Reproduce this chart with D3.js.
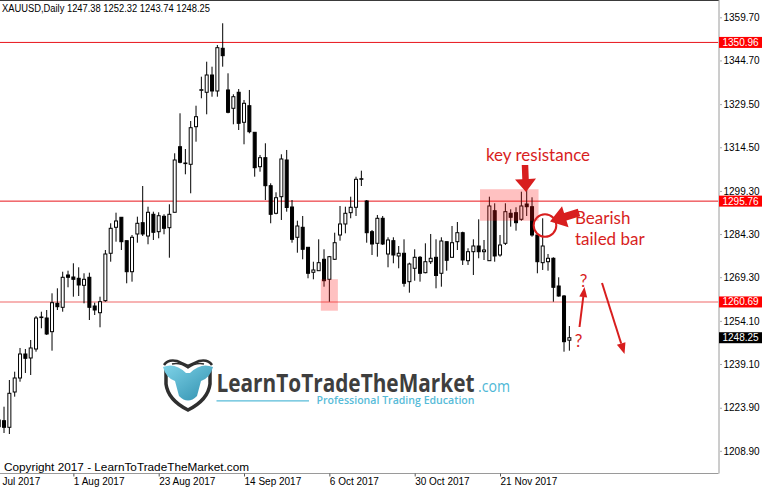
<!DOCTYPE html>
<html><head><meta charset="utf-8">
<script src="https://cdn.jsdelivr.net/npm/d3@7"></script>
<style>
body{margin:0;background:#fff;}
svg{display:block;font-family:"Liberation Sans",Arial,sans-serif;}
</style>
</head><body>
<svg id="c" width="765" height="489"></svg>
<script>
// ---------------- DATA ----------------
const symbolTitle = "XAUUSD,Daily";
const axisStartDate = "2017-07-10";   // first weekday on the time axis (off-screen left)
const axisEndDate   = "2017-12-08";
const firstCandleDate = "2017-07-12";

const opens = [1219.63,1219.39,1217.09,1229.37,1234.24,1242.59,1241.20,1244.33,1255.28,1255.11,
1250.35,1260.22,1258.83,1270.07,1269.37,1268.92,1266.48,1269.27,1259.28,1256.95,
1261.13,1277.62,1286.66,1290.14,1282.00,1271.21,1284.33,1288.26,1283.63,1291.18,
1285.13,1290.48,1286.52,1291.88,1314.69,1308.85,1308.57,1321.65,1334.31,1333.62,
1339.63,1334.07,1348.92,1334.42,1328.05,1333.62,1323.18,1328.95,1319.70,1307.74,
1310.87,1301.13,1291.53,1297.30,1310.07,1293.72,1283.18,1286.66,1279.70,1271.01,
1271.56,1275.53,1268.57,1275.53,1283.98,1287.81,1291.74,1293.62,1303.35,1295.81,
1285.13,1281.09,1289.79,1277.37,1282.00,1276.68,1277.62,1267.74,1272.40,1276.22,
1270.87,1274.69,1276.22,1270.66,1281.65,1276.22,1281.65,1284.78,1275.04,1278.17,
1280.15,1278.17,1275.04,1292.43,1277.02,1281.09,1291.53,1291.74,1289.44,1294.76,
1293.82,1283.98,1274.35,1274.69,1275.88,1266.24,1262.76,1247.38];
const highs = [1221.37,1224.26,1233.54,1236.43,1244.68,1244.33,1247.46,1255.81,1257.30,1257.89,
1263.70,1265.44,1271.21,1271.56,1274.14,1272.75,1270.66,1270.87,1260.43,1262.52,
1278.76,1288.05,1291.74,1290.14,1282.00,1283.98,1290.35,1301.02,1293.82,1292.09,
1291.88,1291.18,1294.66,1312.40,1326.31,1313.89,1323.63,1328.95,1339.04,1344.26,
1342.52,1350.07,1357.62,1340.22,1332.92,1334.76,1330.94,1334.42,1319.70,1311.81,
1315.88,1301.96,1298.83,1312.05,1313.55,1296.15,1288.95,1290.59,1279.70,1274.69,
1282.48,1279.01,1276.68,1284.78,1294.07,1293.82,1297.30,1304.26,1306.35,1296.15,
1285.72,1290.94,1290.59,1283.18,1283.18,1280.15,1282.48,1274.35,1279.01,1276.68,
1281.09,1284.33,1282.48,1283.18,1281.65,1287.11,1288.50,1285.13,1279.36,1282.48,
1289.44,1282.24,1297.30,1295.01,1283.98,1295.01,1292.92,1293.62,1299.04,1299.63,
1297.09,1283.98,1289.79,1277.37,1276.22,1269.27,1263.11,1252.32];
const lows = [1216.15,1215.11,1214.76,1227.74,1232.95,1235.98,1235.28,1243.39,1251.53,1249.20,
1243.74,1257.89,1257.30,1265.79,1262.52,1262.76,1260.22,1254.41,1256.15,1251.88,
1260.78,1274.69,1281.65,1278.76,1267.18,1267.74,1281.30,1283.63,1280.75,1282.24,
1282.83,1284.22,1276.08,1291.88,1308.92,1305.09,1298.48,1316.43,1331.53,1325.96,
1332.08,1332.08,1342.52,1326.31,1322.48,1320.50,1315.53,1319.35,1304.26,1306.00,
1296.15,1288.05,1291.18,1289.20,1292.09,1281.30,1277.82,1275.53,1268.92,1268.57,
1271.56,1266.00,1260.78,1275.28,1282.00,1284.57,1289.79,1290.59,1301.02,1281.30,
1277.02,1276.43,1280.50,1272.75,1274.14,1272.40,1266.00,1263.91,1268.08,1267.74,
1270.66,1273.89,1265.44,1266.00,1271.56,1276.22,1278.76,1273.55,1273.55,1270.07,
1275.88,1275.28,1275.04,1274.69,1276.43,1280.50,1286.87,1285.48,1288.95,1290.59,
1283.39,1270.66,1271.81,1271.56,1260.78,1262.52,1243.39,1243.74];
const closes = [1217.30,1217.09,1228.92,1234.24,1242.59,1241.09,1244.68,1255.11,1255.46,1249.55,
1260.43,1259.04,1269.27,1269.27,1268.57,1266.59,1268.57,1258.83,1257.89,1260.78,
1277.37,1286.31,1288.85,1281.65,1271.21,1283.18,1288.05,1284.33,1291.88,1284.92,
1290.69,1286.31,1291.18,1310.07,1309.27,1309.02,1321.30,1325.13,1334.52,1339.63,
1334.07,1349.13,1346.35,1326.66,1332.08,1322.83,1329.79,1319.91,1307.39,1310.87,
1301.13,1291.18,1296.95,1310.42,1293.55,1282.48,1287.11,1279.01,1270.66,1271.81,
1274.35,1268.08,1276.43,1281.30,1287.81,1291.53,1293.62,1303.35,1303.56,1284.78,
1280.85,1289.79,1280.85,1282.24,1277.02,1277.62,1267.18,1273.89,1276.22,1270.66,
1274.69,1275.88,1269.89,1281.89,1275.18,1281.30,1284.78,1275.28,1278.17,1280.15,
1278.17,1278.76,1294.07,1276.68,1280.50,1292.09,1290.14,1288.26,1294.07,1293.82,
1283.98,1274.69,1280.15,1275.88,1265.79,1262.76,1246.87,1248.25];

const yTicks = [1359.70,1344.70,1329.50,1314.50,1299.30,1284.30,1269.30,1254.10,1239.10,1223.90,1208.90];
const xTickDates = ["2017-07-10","2017-08-01","2017-08-23","2017-09-14","2017-10-06","2017-10-30","2017-11-21"];
const levels = [1350.96, 1295.76, 1260.69];
const zoneKeyResistance = {from:"2017-11-16", to:"2017-11-29", top:1299.9, bottom:1288.95};
const zoneLow = {from:"2017-10-05", to:"2017-10-09", top:1268.6, bottom:1257.65};
const copyrightText = "Copyright 2017 - LearnToTradeTheMarket.com";

// ---------------- SETUP ----------------
const svg = d3.select("#c");
const plotRight = 718.5, plotBottom = 473.5;
const parse = d3.timeParse("%Y-%m-%d");
const fmtKey = d3.timeFormat("%Y-%m-%d");
const axisDates = d3.timeDay.range(parse(axisStartDate), d3.timeDay.offset(parse(axisEndDate),1))
  .filter(d => d.getDay() !== 0 && d.getDay() !== 6);
const dateIndex = new Map(axisDates.map((d,i)=>[fmtKey(d), i]));
const firstIdx = dateIndex.get(firstCandleDate);
const candles = opens.map((o,i)=>({i: firstIdx+i, o, h:highs[i], l:lows[i], c:closes[i]}));

const x = d3.scaleLinear().domain([0, axisDates.length-1]).range([-11.97, -11.97 + (axisDates.length-1)*5.3333]);
const y = d3.scaleLinear().domain([1359.70, 1208.90]).range([17.3, 450.85]);

const defs = svg.append("defs");
defs.append("clipPath").attr("id","plot")
  .append("rect").attr("x",0).attr("y",0).attr("width",plotRight).attr("height",plotBottom);
const grad = defs.append("linearGradient").attr("id","bull").attr("x1",0).attr("y1",0).attr("x2",1).attr("y2",1);
grad.append("stop").attr("offset","0%").attr("stop-color","#7fd3e8");
grad.append("stop").attr("offset","100%").attr("stop-color","#2f8fae");

const plot = svg.append("g").attr("clip-path","url(#plot)");

// level lines
const levelColor = ["#e8141a","#e8141a","#f59a9a"];
const levelWidth = [1,1,1.6];
plot.selectAll("line.level").data(levels).join("line").attr("class","level")
  .attr("x1",0).attr("x2",plotRight).attr("y1",d=>y(d)).attr("y2",d=>y(d))
  .attr("stroke",(d,i)=>levelColor[i]).attr("stroke-width",(d,i)=>levelWidth[i]);

// candles
const cg = plot.append("g");
cg.selectAll("line.wick").data(candles).join("line").attr("class","wick")
  .attr("x1",d=>x(d.i)).attr("x2",d=>x(d.i)).attr("y1",d=>y(d.h)).attr("y2",d=>y(d.l))
  .attr("stroke","#000").attr("stroke-width",1);
cg.selectAll("rect.body").data(candles).join("rect").attr("class","body")
  .attr("x",d=>x(d.i)-1.5).attr("width",3)
  .attr("y",d=>y(Math.max(d.o,d.c)))
  .attr("height",d=>Math.max(0.6, Math.abs(y(d.o)-y(d.c))))
  .attr("fill",d=> d.c>=d.o ? "#fff" : "#000")
  .attr("stroke","#000").attr("stroke-width",1);

// pink zones
[[zoneKeyResistance,4,6.5],[zoneLow,3.2,3.2]].forEach(([z,pl,pr])=>{
  const x0 = x(dateIndex.get(z.from)) - pl, x1 = x(dateIndex.get(z.to)) + pr;
  plot.append("rect").attr("x",x0).attr("width",x1-x0)
    .attr("y",y(z.top)).attr("height",y(z.bottom)-y(z.top))
    .attr("fill","#ff1a1a").attr("fill-opacity",0.27);
});

// frame
svg.append("line").attr("x1",0).attr("x2",plotRight+0.5).attr("y1",0.5).attr("y2",0.5).attr("stroke","#3a3a3a").attr("stroke-width",1);
svg.append("line").attr("x1",0).attr("x2",plotRight).attr("y1",plotBottom).attr("y2",plotBottom).attr("stroke","#9a9a9a").attr("stroke-width",1);

// Y axis (right)
const yAxis = d3.axisRight(y).tickValues(yTicks).tickSize(3).tickPadding(2).tickFormat(d3.format(".2f"));
const yg = svg.append("g").attr("transform",`translate(${plotRight},0)`).call(yAxis);
yg.select(".domain").attr("stroke","#9a9a9a").attr("d",`M0.5,0V${plotBottom}`);
yg.selectAll(".tick line").attr("stroke","#555").attr("x1",2);
yg.selectAll(".tick text").attr("font-size","10px").attr("font-family","Liberation Sans, Arial, sans-serif").attr("fill","#000");

// X axis
const xTickIdx = xTickDates.map(d=>dateIndex.get(d));
const fmtLabel = d3.timeFormat("%-d %b %Y");
const xAxis = d3.axisBottom(x).tickValues(xTickIdx).tickSize(3).tickFormat(i=>fmtLabel(axisDates[i]));
const xg = svg.append("g").attr("transform",`translate(0,${plotBottom})`).call(xAxis);
xg.select(".domain").remove();
xg.selectAll(".tick line").attr("stroke","#555");
xg.selectAll(".tick text").attr("text-anchor","start").attr("x",0).attr("y",4).attr("dy","0.71em")
  .attr("font-size","10px").attr("font-family","Liberation Sans, Arial, sans-serif").attr("fill","#000");

// price tags
levels.forEach((v)=>{
  svg.append("rect").attr("x",719).attr("y",y(v)-5.5).attr("width",43).attr("height",11).attr("fill","#ff0000");
  svg.append("text").attr("x",722.5).attr("y",y(v)).attr("dy","0.35em").attr("font-size","10px").attr("fill","#fff").text(v.toFixed(2));
});
const lastClose = closes[closes.length-1];
svg.append("rect").attr("x",719).attr("y",y(lastClose)-5.5).attr("width",43).attr("height",11).attr("fill","#000");
svg.append("text").attr("x",722.5).attr("y",y(lastClose)).attr("dy","0.35em").attr("font-size","10px").attr("fill","#fff").text(lastClose.toFixed(2));

// title
const last = candles[candles.length-1];
svg.append("text").attr("x",2).attr("y",12).attr("font-size","10px").attr("fill","#000")
  .attr("textLength",208).attr("lengthAdjust","spacingAndGlyphs")
  .text(`${symbolTitle}  ${last.o.toFixed(2)} ${last.h.toFixed(2)} ${last.l.toFixed(2)} ${last.c.toFixed(2)}`);

// copyright
svg.append("text").attr("x",4).attr("y",471).attr("font-size","11.5px").attr("fill","#000")
  .attr("textLength",245).attr("lengthAdjust","spacingAndGlyphs").text(copyrightText);

// ---------------- ANNOTATIONS ----------------
const red = "#d81e1e";
function blockArrow(tail, tip, sw, hw, hl){
  const dx=tip[0]-tail[0], dy=tip[1]-tail[1], L=Math.hypot(dx,dy), ux=dx/L, uy=dy/L, nx=-uy, ny=ux;
  const bx=tip[0]-ux*hl, by=tip[1]-uy*hl;
  const p=[[tail[0]+nx*sw/2,tail[1]+ny*sw/2],[bx+nx*sw/2,by+ny*sw/2],[bx+nx*hw/2,by+ny*hw/2],tip,
           [bx-nx*hw/2,by-ny*hw/2],[bx-nx*sw/2,by-ny*sw/2],[tail[0]-nx*sw/2,tail[1]-ny*sw/2]];
  return "M"+p.map(q=>q.join(",")).join("L")+"Z";
}
function thinArrow(tail, tip, hl, hw){
  const dx=tip[0]-tail[0], dy=tip[1]-tail[1], L=Math.hypot(dx,dy), ux=dx/L, uy=dy/L, nx=-uy, ny=ux;
  const bx=tip[0]-ux*hl, by=tip[1]-uy*hl;
  svg.append("line").attr("x1",tail[0]).attr("y1",tail[1]).attr("x2",bx).attr("y2",by).attr("stroke",red).attr("stroke-width",2);
  svg.append("path").attr("d",`M${tip[0]},${tip[1]}L${bx+nx*hw/2},${by+ny*hw/2}L${bx-nx*hw/2},${by-ny*hw/2}Z`).attr("fill",red);
}
const annFont = "Lato, 'Open Sans', sans-serif";
svg.append("text").attr("x",538).attr("y",161).attr("text-anchor","middle").attr("font-family",annFont)
  .attr("font-size","17px").attr("fill",red).text("key resistance");
svg.append("path").attr("d",blockArrow([525,165],[526,192],6.5,21,13)).attr("fill",red);
svg.append("circle").attr("cx",545).attr("cy",225.5).attr("r",11.3).attr("fill","none").attr("stroke",red).attr("stroke-width",2);
svg.append("path").attr("d",blockArrow([579,212.5],[550,221.5],8,22,16)).attr("fill",red);
svg.append("text").attr("x",575).attr("y",224).attr("font-family",annFont).attr("font-size","17px").attr("fill",red).text("Bearish");
svg.append("text").attr("x",575).attr("y",244.5).attr("font-family",annFont).attr("font-size","17px").attr("fill",red).text("tailed bar");
svg.append("text").attr("x",583.5).attr("y",286.5).attr("text-anchor","middle").attr("font-family",annFont).attr("font-size","17px").attr("fill",red).text("?");
svg.append("text").attr("x",578.5).attr("y",346.5).attr("text-anchor","middle").attr("font-family",annFont).attr("font-size","17px").attr("fill",red).text("?");
thinArrow([579.5,327],[584.5,287],10,8);
thinArrow([602,283],[624.5,354],11,9);

// ---------------- LOGO ----------------
const logo = svg.append("g");
logo.append("path").attr("d","M166,369 L166,384 Q168,400 188,410 Q208,400 210,384 L210,369")
  .attr("fill","#fff").attr("stroke","#2f2f2f").attr("stroke-width",3.5);
logo.append("path").attr("d","M163,367 Q175,362 186,373 L190,373 Q201,362 213,367 Q210,378 201,381 L197,396 Q188,405 179,396 L175,381 Q166,378 163,367 Z")
  .attr("fill","url(#bull)");
logo.append("path").attr("d","M164,365 Q168,359 177,361 L188,366 L199,361 Q208,359 212,365")
  .attr("fill","none").attr("stroke","#2f2f2f").attr("stroke-width",2.5);
logo.append("path").attr("d","M172,364 Q180,362 188,368 Q196,362 204,364")
  .attr("fill","none").attr("stroke","#2f2f2f").attr("stroke-width",1.5);
logo.append("text").attr("x",216.5).attr("y",392).attr("font-family","'Open Sans', Lato, sans-serif").attr("font-weight","700")
  .attr("font-size","25px").attr("fill","#3e3e3e").attr("textLength",258).attr("lengthAdjust","spacingAndGlyphs").text("LearnToTradeTheMarket");
logo.append("text").attr("x",478).attr("y",392).attr("font-family","'Open Sans', Lato, sans-serif")
  .attr("font-size","16px").attr("fill","#4db7d6").attr("textLength",32).attr("lengthAdjust","spacingAndGlyphs").text(".com");
logo.append("line").attr("x1",216.5).attr("x2",309).attr("y1",400.8).attr("y2",400.8).attr("stroke","#57bbd8").attr("stroke-width",1.3);
logo.append("text").attr("x",316.5).attr("y",404).attr("font-family","'Open Sans', Lato, sans-serif").attr("font-weight","600")
  .attr("font-size","10.5px").attr("fill","#57bbd8").attr("textLength",158).attr("lengthAdjust","spacingAndGlyphs").text("Professional Trading Education");
</script>
</body></html>
